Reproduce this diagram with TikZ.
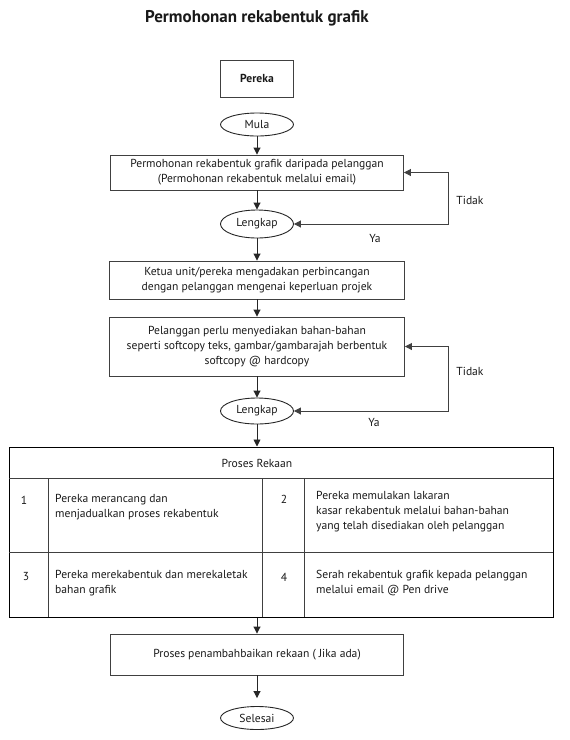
\documentclass[tikz,border=0pt]{standalone}
\usepackage{fontspec}
\setmainfont{PT Sans}
\usetikzlibrary{shapes.geometric, arrows.meta}

\begin{document}
\begin{tikzpicture}[x=1pt, y=-1pt,
  every node/.style={font=\fontsize{11.6}{15}\selectfont, text=black!90},
  box/.style={draw=black!75, line width=0.9pt, align=center, inner sep=0pt},
  term/.style={draw=black!85, line width=0.9pt, ellipse, inner sep=0pt, minimum width=73pt},
  arr/.style={draw=black!85, line width=0.9pt, -{Triangle[length=7pt,width=7pt]}},
  backline/.style={draw=black!75, line width=0.9pt, {Triangle[length=7pt,width=7pt]}-{Triangle[length=7pt,width=7pt]}}]
\useasboundingbox (0,0) rectangle (570,740);

% Tajuk
\node[font=\bfseries\fontsize{17}{20}\selectfont] (tajuk) at (257,18) {Permohonan rekabentuk grafik};

% Pereka dan Mula
\node[box, minimum width=73pt, minimum height=37pt, font=\bfseries\fontsize{11.6}{14}\selectfont] (pereka) at (257,78.5) {Pereka};
\node[term, minimum height=23pt] (mula) at (257,124.5) {Mula};

% Permohonan dan semakan
\node[box, minimum width=293pt, minimum height=35pt] (mohon) at (257,172.5) {Permohonan rekabentuk grafik daripada pelanggan\\(Permohonan rekabentuk melalui email)};
\node[term, minimum height=28pt] (lengkapA) at (257,224) {Lengkap};
\node[box, minimum width=295pt, minimum height=38pt] (bincang) at (257,280) {Ketua unit/pereka mengadakan perbincangan\\dengan pelanggan mengenai keperluan projek};
\node[box, minimum width=295pt, minimum height=59pt] (bahan) at (257,346.5) {Pelanggan perlu menyediakan bahan-bahan\\seperti softcopy teks, gambar/gambarajah berbentuk\\softcopy @ hardcopy};
\node[term, minimum height=26pt] (lengkapB) at (257,411) {Lengkap};

% Proses Rekaan
\node[draw=black, line width=1pt, minimum width=544pt, minimum height=170pt, inner sep=0pt] (rekaan) at (281,532) {};
\draw[black!75, line width=0.9pt] (9,478) -- (553,478);
\draw[black!75, line width=0.9pt] (9,552) -- (553,552);
\foreach \x in {48,262,304} {
    \draw[black!75, line width=0.9pt] (\x,478) -- (\x,617);
}
\node (tajukRekaan) at (257,463) {Proses Rekaan};
\foreach \n/\x/\y in {1/24/500, 2/284/499, 3/26/577, 4/284/577} {
    \node (no\n) at (\x,\y) {\n};
}
\node[anchor=north west, align=left, inner sep=0pt] (sel1) at (55,494) {Pereka merancang dan\\menjadualkan proses rekabentuk};
\node[anchor=north west, align=left, inner sep=0pt] (sel2) at (316,491) {Pereka memulakan lakaran\\kasar rekabentuk melalui bahan-bahan\\yang telah disediakan oleh pelanggan};
\node[anchor=north west, align=left, inner sep=0pt] (sel3) at (55,570) {Pereka merekabentuk dan merekaletak\\bahan grafik};
\node[anchor=north west, align=left, inner sep=0pt] (sel4) at (316,570) {Serah rekabentuk grafik kepada pelanggan\\melalui email @ Pen drive};

% Penambahbaikan dan Selesai
\node[box, minimum width=293pt, minimum height=41pt] (baik) at (257,654.5) {Proses penambahbaikan rekaan ( Jika ada)};
\node[term, minimum height=23pt] (selesai) at (257,718) {Selesai};

% Anak panah
\draw[arr] (mula) -- (mohon);
\draw[arr] (mohon) -- (lengkapA);
\draw[arr] (lengkapA) -- (bincang);
\draw[arr] (bincang) -- (bahan);
\draw[arr] (bahan) -- (lengkapB);
\draw[arr] (lengkapB) -- (lengkapB |- rekaan.north);
\draw[arr] (baik |- rekaan.south) -- (baik);
\draw[arr, shorten >=8pt] (baik) -- (selesai);

% Gelung Tidak / Ya
\coordinate (sudutA) at (448,224);
\draw[backline] (lengkapA.east) -- (sudutA) |- (mohon.east);
\node (tidakA) at (470,200) {Tidak};
\node (yaA) at (375,238) {Ya};
\coordinate (sudutB) at (448,411);
\draw[backline] (lengkapB.east) -- (sudutB) |- (bahan.east);
\node (tidakB) at (470,371) {Tidak};
\node (yaB) at (374,422) {Ya};
\end{tikzpicture}
\end{document}
